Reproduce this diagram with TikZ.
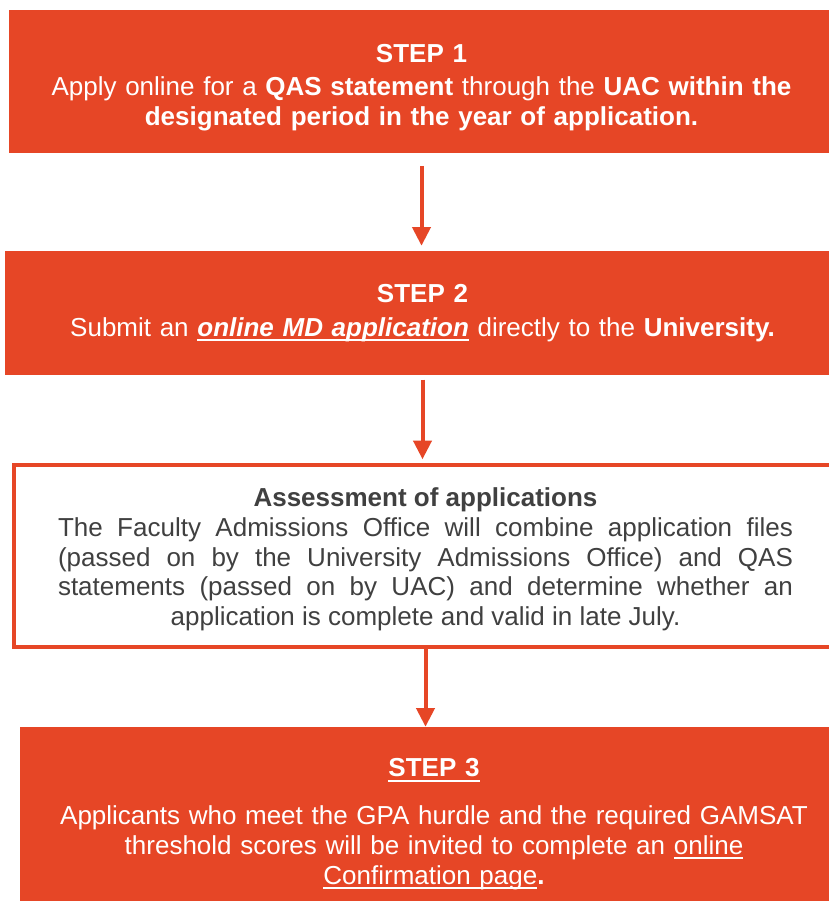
\documentclass[tikz,border=0pt]{standalone}
\usepackage{fontspec}
\setmainfont{Liberation Sans}
\usepackage{tikz}
\usetikzlibrary{arrows.meta,positioning}
\usepackage{xcolor}
\definecolor{uniorange}{HTML}{E64626}
\definecolor{textgray}{HTML}{404040}
\newsavebox{\ulsave}
\newcommand{\ulw}[1]{\leavevmode\sbox{\ulsave}{#1}\rlap{\rule[-3.6pt]{\wd\ulsave}{1.5pt}}\usebox{\ulsave}}

\begin{document}
\begin{tikzpicture}
      [x=0.75pt, y=-0.75pt,
      step box/.style={rectangle, fill=uniorange, text=white, align=center, inner sep=0pt, text width=592.5pt,
        font=\fontsize{19.5pt}{22.5pt}\selectfont},
      check box/.style={rectangle, draw=uniorange, line width=3pt, fill=white, text=textgray, align=justify, inner sep=0pt,
        text width=551.25pt, font=\fontsize{19.5pt}{22.2pt}\selectfont},
      flow arrow/.style={draw=uniorange, line width=3pt, -{Triangle[length=14pt,width=13.5pt]}}
      ]
    
      \useasboundingbox (0,0) rectangle (829,901);

      \node[step box, minimum width=618.75pt, minimum height=107.25pt] (step1) at (421.5,81.5)
        {\rule{0pt}{22.2pt}\textbf{STEP 1}\\[2.2pt]
         Apply online for a \textbf{QAS statement} through the \textbf{UAC within the}\\
         \textbf{designated period in the year of application.}};

      \node[step box, minimum width=626.25pt, minimum height=93pt] (step2) at (422.5,313)
        {\textbf{STEP 2}\\[3pt]
         Submit an \ulw{\textbf{\textit{online MD application}}} directly to the \textbf{University.}};

      \node[check box, minimum width=617.7pt, minimum height=136.3pt] (assess) at (425.5,556.15)
        {\rule{0pt}{19pt}\hspace*{\fill}\textbf{Assessment of applications}\hspace*{\fill}\linebreak
         The Faculty Admissions Office will combine application files\linebreak
         (passed on by the University Admissions Office) and QAS\linebreak
         statements (passed on by UAC) and determine whether an\linebreak
         \hspace*{\fill}application is complete and valid in late July.\hspace*{\fill}};

      \node[step box, minimum width=621pt, minimum height=145.5pt] (step3) at (434,824)
        {\ulw{\textbf{STEP 3}}\\[13pt]
         Applicants who meet the GPA hurdle and the required GAMSAT\\
         threshold scores will be invited to complete an \ulw{online}\\
         \ulw{Confirmation page}\textbf{.}};

      \draw[flow arrow, shorten <=9.5pt, shorten >=3.75pt] (step1.south) -- (step1.south |- step2.north);
      \draw[flow arrow, shorten <=3.2pt, shorten >=3pt] (step2.south) -- (step2.south |- assess.north);
      \draw[flow arrow] (assess.south) -- (assess.south |- step3.north);
    \end{tikzpicture}
\end{document}
